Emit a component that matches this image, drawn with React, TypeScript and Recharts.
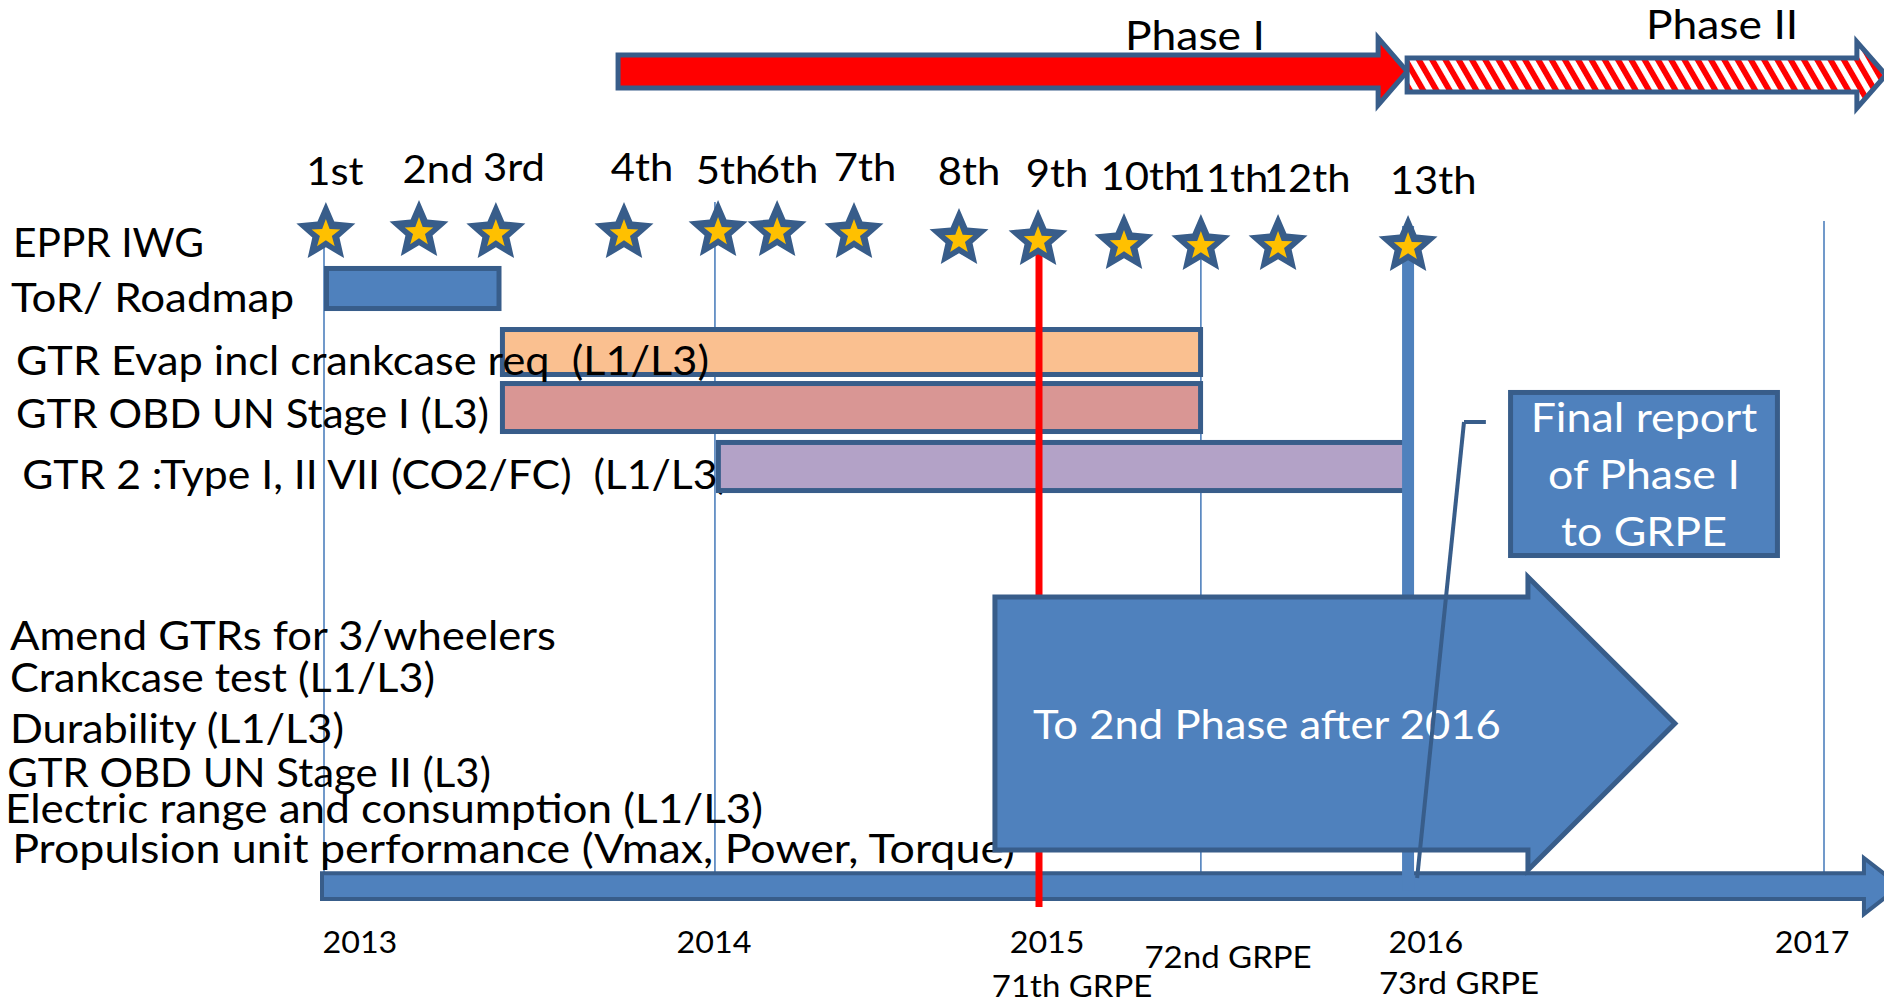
import {
  ComposedChart,
  XAxis,
  YAxis,
  Scatter,
  ReferenceArea,
  ReferenceLine,
} from 'recharts'

// x: months along the slide's timeline (2013 = 0, 2017 = 48, drawn not to scale)
// y: vertical lane units (0 = top, 100 = bottom)
const T_MIN = -10.368
const T_MAX = 49.92

const MEETINGS = ['1st', '2nd', '3rd', '4th', '5th', '6th', '7th', '8th', '9th', '10th', '11th', '12th', '13th']
const MEETING_T = [0.06, 3.04, 5.5, 9.6, 12.61, 14.5, 16.96, 20.32, 22.85, 25.6, 28.06, 30.53, 34.69]
const MEETING_Y = [23.21, 23.01, 23.21, 23.21, 23.01, 23.01, 23.21, 23.8, 23.9, 24.3, 24.4, 24.4, 24.5]
const MEETING_LABEL_T = [0.35, 3.65, 6.08, 10.18, 12.9, 14.82, 17.31, 20.64, 23.46, 26.24, 28.83, 31.46, 35.49]
const MEETING_LABEL_Y = [18.43, 18.23, 18.03, 18.03, 18.33, 18.23, 18.03, 18.43, 18.63, 18.92, 19.12, 19.12, 19.32]

const ROW_LABELS = [
  'EPPR IWG',
  'ToR/ Roadmap',
  'GTR Evap incl crankcase req  (L1/L3)',
  'GTR OBD UN Stage I (L3)',
  'GTR 2 :Type I, II VII (CO2/FC)  (L1/L3)',
  'Amend GTRs for 3/wheelers',
  'Crankcase test (L1/L3)',
  'Durability (L1/L3)',
  'GTR OBD UN Stage II (L3)',
  'Electric range and consumption (L1/L3)',
  'Propulsion unit performance (Vmax, Power, Torque)',
]
// where each label starts and ends along the timeline, and its baseline lane
const ROW_LABEL_T = [-9.95, -10.02, -9.86, -9.86, -9.66, -10.05, -10.05, -10.05, -10.14, -10.21, -9.98]
const ROW_LABEL_END_T = [-3.84, -0.96, 12.32, 5.28, 12.96, 7.42, 3.55, 0.64, 5.34, 14.05, 22.11]
const ROW_LABEL_Y = [25.6, 31.08, 37.35, 42.63, 48.71, 64.74, 68.92, 74.0, 78.39, 81.97, 85.96]
// this one is written on top of its bar in the slide; the others sit underneath
const LABEL_OVER_BAR = 2

const TASKS = ['ToR/ Roadmap', 'GTR Evap', 'GTR OBD Stage I', 'GTR 2']
const TASK_START = [0.08, 5.71, 5.71, 12.62]
const TASK_END = [5.6, 28.05, 28.05, 34.67]
const TASK_TOP = [26.74, 32.82, 38.2, 44.07]
const TASK_BOTTOM = [30.73, 37.3, 42.98, 48.86]
const TASK_COLORS = ['#4F81BD', '#FAC090', '#D99694', '#B3A2C7']

const YEARS = ['2013', '2014', '2015', '2016', '2017']
const YEAR_LABEL_T = [1.15, 12.48, 23.14, 35.26, 47.62]
const YEAR_LABEL_Y = 94.92

const GRPE = ['71th GRPE', '72nd GRPE', '73rd GRPE']
const GRPE_T = [23.94, 28.93, 36.32]
const GRPE_Y = [99.3, 96.41, 99.0]

// thin guide lines: 2013, 2014, 72nd GRPE, 2017
const GUIDE_T = [0, 12.51, 28.06, 48]
const GUIDE_TOP = [23.31, 20.12, 22.71, 22.01]
const GUIDE_BOTTOM = [88.35, 88.35, 88.35, 87.95]

const RED_LINE = { t: 22.88, top: 24.7, bottom: 90.34 }
const PHASE_END_LINE = { t: 34.69, top: 22.51, bottom: 88.65 }

const PHASES = ['Phase I', 'Phase II']
const PHASE_LABEL_T = [27.87, 44.74]
const PHASE_LABEL_Y = [4.98, 3.88]

const FONT = 'Lato, "Open Sans", sans-serif'
const DARK = '#385D8A'
const BLUE = '#4F81BD'

function starPoints(cx: number, cy: number, r: number, ratio: number) {
  const pts: string[] = []
  for (let i = 0; i < 10; i++) {
    const rr = i % 2 === 0 ? r : r * ratio
    const a = -Math.PI / 2 + (i * Math.PI) / 5
    pts.push(`${cx + rr * Math.cos(a)},${cy + rr * Math.sin(a)}`)
  }
  return pts.join(' ')
}

function StarMark(props: any) {
  const { cx, cy } = props
  if (cx == null || cy == null) return <g />
  return (
    <g>
      <polygon points={starPoints(cx, cy, 31, 0.46)} fill={DARK} />
      <polygon points={starPoints(cx, cy + 1, 15, 0.42)} fill="#FFC000" />
    </g>
  )
}

// Calibri-like look: Lato stretched a little horizontally
function Label(props: {
  x: number
  y: number
  text: string
  size: number
  anchor?: 'start' | 'middle' | 'end'
  fill?: string
  stretch?: number
  length?: number
}) {
  const { x, y, text, size, anchor = 'start', fill = '#000', stretch = 1.1, length } = props
  if (length) {
    return (
      <text
        x={x}
        y={y}
        fontSize={size}
        fill={fill}
        fontFamily={FONT}
        textLength={length}
        lengthAdjust="spacingAndGlyphs"
        xmlSpace="preserve"
        style={{ whiteSpace: 'pre' }}
      >
        {text}
      </text>
    )
  }
  return (
    <text
      transform={`translate(${x},${y}) scale(${stretch},1)`}
      fontSize={size}
      textAnchor={anchor}
      fill={fill}
      fontFamily={FONT}
      xmlSpace="preserve"
      style={{ whiteSpace: 'pre' }}
    >
      {text}
    </text>
  )
}

const textMark = (size: number, anchor: 'start' | 'middle' | 'end', stretch = 1.1) =>
  function TextMark(props: any) {
    const { cx, cy, payload } = props
    if (cx == null || cy == null) return <g />
    return <Label x={cx} y={cy} text={payload.text} size={size} anchor={anchor} stretch={stretch} />
  }

function arrowPath(x: number, y: number, w: number, h: number, bodyRatio: number, head: number) {
  const cy = y + h / 2
  const bh = (h * bodyRatio) / 2
  const hx = x + w - head
  return `M${x},${cy - bh} L${hx},${cy - bh} L${hx},${y} L${x + w},${cy} L${hx},${y + h} L${hx},${cy + bh} L${x},${cy + bh} Z`
}

const arrowShape = (fill: string, bodyRatio: number, head: number, strokeWidth = 5, extra?: (p: any) => any) =>
  function ArrowShape(p: any) {
    const { x, y, width, height } = p
    return (
      <g>
        <path d={arrowPath(x, y, width, height, bodyRatio, head)} fill={fill} stroke={DARK} strokeWidth={strokeWidth} />
        {extra ? extra(p) : null}
      </g>
    )
  }

function HatchedArrow(p: any) {
  const { x, y, width, height } = p
  return (
    <g>
      <defs>
        <pattern id="hatch" patternUnits="userSpaceOnUse" width="11.5" height="11.5" patternTransform="rotate(-30)">
          <rect width="11.5" height="11.5" fill="#fff" />
          <rect width="5.8" height="11.5" fill="#FF0000" />
        </pattern>
      </defs>
      <path d={arrowPath(x, y, width, height, 0.515, 29)} fill="url(#hatch)" stroke={DARK} strokeWidth={5} />
    </g>
  )
}

const boxShape = (fill: string) =>
  function Box(p: any) {
    const { x, y, width, height } = p
    return <rect x={x} y={y} width={width} height={height} fill={fill} stroke={DARK} strokeWidth={5} />
  }

const vLine = (color: string, w: number) =>
  function VLine(p: any) {
    return <rect x={p.x - w / 2} y={p.y} width={w} height={p.height} fill={color} />
  }

// the area spans the label's extent, so its width is the text length
const labelShape = (text: string) =>
  function RowLabel(p: any) {
    return <Label x={p.x} y={p.y + p.height} text={text} size={40} length={p.width} />
  }

function FinalReport(p: any) {
  const { x, y, width, height } = p
  const mid = x + width / 2
  const lines = ['Final report', 'of Phase I', 'to GRPE']
  return (
    <g>
      <rect x={x} y={y} width={width} height={height} fill={BLUE} stroke={DARK} strokeWidth={5} />
      {lines.map((l, i) => (
        <Label key={l} x={mid} y={y + 40 + i * 57} text={l} size={41} anchor="middle" fill="#fff" stretch={1.09} />
      ))}
    </g>
  )
}

const meetingData = MEETINGS.map((m, i) => ({ t: MEETING_T[i], y: MEETING_Y[i], text: m }))
const meetingLabelData = MEETINGS.map((m, i) => ({ t: MEETING_LABEL_T[i], y: MEETING_LABEL_Y[i], text: m }))
const yearData = YEARS.map((l, i) => ({ t: YEAR_LABEL_T[i], y: YEAR_LABEL_Y, text: l }))
const grpeData = GRPE.map((l, i) => ({ t: GRPE_T[i], y: GRPE_Y[i], text: l }))
const phaseData = PHASES.map((l, i) => ({ t: PHASE_LABEL_T[i], y: PHASE_LABEL_Y[i], text: l }))

function rowLabel(i: number) {
  return (
    <ReferenceArea
      key={`l${i}`}
      x1={ROW_LABEL_T[i]}
      x2={ROW_LABEL_END_T[i]}
      y1={ROW_LABEL_Y[i] - 0.001}
      y2={ROW_LABEL_Y[i]}
      ifOverflow="visible"
      shape={labelShape(ROW_LABELS[i])}
    />
  )
}

export default function App() {
  return (
    <div style={{ position: 'absolute', left: 0, top: 0, width: 1884, height: 1004, background: '#fff' }}>
      <ComposedChart width={1884} height={1004} margin={{ top: 0, right: 0, bottom: 0, left: 0 }}>
        <XAxis type="number" dataKey="t" domain={[T_MIN, T_MAX]} allowDataOverflow hide />
        <YAxis type="number" dataKey="y" domain={[0, 100]} reversed allowDataOverflow hide />

        {GUIDE_T.map((t, i) => (
          <ReferenceArea
            key={`g${i}`}
            x1={t}
            x2={t + 0.001}
            y1={GUIDE_TOP[i]}
            y2={GUIDE_BOTTOM[i]}
            ifOverflow="visible"
            shape={vLine(BLUE, 1.6)}
          />
        ))}

        {ROW_LABELS.map((_, i) => (i === LABEL_OVER_BAR ? null : rowLabel(i)))}

        {TASKS.map((name, i) => (
          <ReferenceArea
            key={name}
            x1={TASK_START[i]}
            x2={TASK_END[i]}
            y1={TASK_TOP[i]}
            y2={TASK_BOTTOM[i]}
            ifOverflow="visible"
            shape={boxShape(TASK_COLORS[i])}
          />
        ))}

        {rowLabel(LABEL_OVER_BAR)}

        {/* timeline axis arrow */}
        <ReferenceArea x1={-0.064} x2={50.43} y1={85.46} y2={91.04} ifOverflow="visible" shape={arrowShape(BLUE, 0.46, 36, 4)} />

        <ReferenceArea
          x1={RED_LINE.t}
          x2={RED_LINE.t + 0.001}
          y1={RED_LINE.top}
          y2={RED_LINE.bottom}
          ifOverflow="visible"
          shape={vLine('#FF0000', 7)}
        />
        <ReferenceArea
          x1={PHASE_END_LINE.t}
          x2={PHASE_END_LINE.t + 0.001}
          y1={PHASE_END_LINE.top}
          y2={PHASE_END_LINE.bottom}
          ifOverflow="visible"
          shape={vLine(BLUE, 12)}
        />

        {/* To 2nd phase arrow */}
        <ReferenceArea
          x1={21.47}
          x2={43.23}
          y1={57.47}
          y2={86.65}
          ifOverflow="visible"
          shape={arrowShape(BLUE, 0.863, 147, 5, (p) => (
            <Label x={p.x + 38} y={p.y + p.height / 2 + 16} text="To 2nd Phase after 2016" size={40} fill="#fff" stretch={1.09} />
          ))}
        />

        <ReferenceArea x1={37.97} x2={46.51} y1={39.09} y2={55.33} ifOverflow="visible" shape={FinalReport} />

        {/* phase arrows */}
        <ReferenceArea x1={9.41} x2={34.66} y1={3.78} y2={10.46} ifOverflow="visible" shape={arrowShape('#FF0000', 0.49, 29)} />
        <ReferenceArea x1={34.66} x2={49.98} y1={4.18} y2={10.76} ifOverflow="visible" shape={HatchedArrow} />

        {/* connector from final report */}
        <ReferenceLine segment={[{ x: 37.18, y: 42.03 }, { x: 36.48, y: 42.03 }]} stroke={DARK} strokeWidth={4} ifOverflow="visible" />
        <ReferenceLine segment={[{ x: 36.48, y: 42.03 }, { x: 34.98, y: 87.45 }]} stroke={DARK} strokeWidth={4} ifOverflow="visible" />

        <Scatter data={meetingData} shape={StarMark} isAnimationActive={false} legendType="none" />
        <Scatter data={meetingLabelData} shape={textMark(38, 'middle', 1.1)} isAnimationActive={false} legendType="none" />
        <Scatter data={phaseData} shape={textMark(40, 'middle', 1.11)} isAnimationActive={false} legendType="none" />
        <Scatter data={yearData} shape={textMark(31, 'middle', 1.04)} isAnimationActive={false} legendType="none" />
        <Scatter data={grpeData} shape={textMark(30, 'middle', 1.1)} isAnimationActive={false} legendType="none" />
      </ComposedChart>
    </div>
  )
}
